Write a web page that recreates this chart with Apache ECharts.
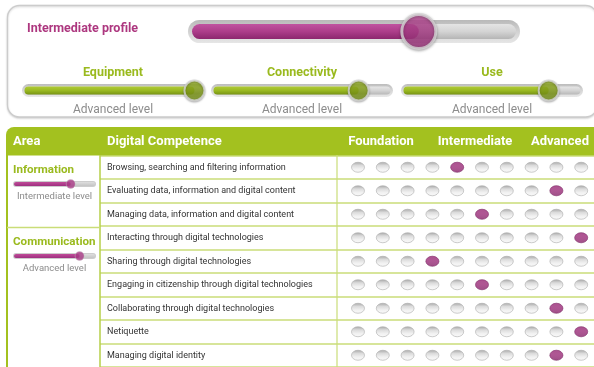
<!DOCTYPE html>
<html><head><meta charset="utf-8">
<script src="https://cdn.jsdelivr.net/npm/echarts@6/dist/echarts.min.js"></script>
<style>html,body{margin:0;padding:0;background:#fff}#c{width:594px;height:367px}</style>
</head><body><div id="c"></div>
<script>
// ---------- data ----------
const profileLabel = 'Intermediate profile';
const profileValue = 70;
const dimensionNames = ['Equipment', 'Connectivity', 'Use'];
const dimensionValues = [96, 82, 82];
const dimensionLevels = ['Advanced level', 'Advanced level', 'Advanced level'];
const headerLabels = ['Area', 'Digital Competence'];
const levelGroupLabels = ['Foundation', 'Intermediate', 'Advanced'];
const areaNames = ['Information', 'Communication'];
const areaValues = [70, 81];
const areaLevels = ['Intermediate level', 'Advanced level'];
const areaRowCounts = [3, 6];
const competences = [
  'Browsing, searching and filtering information',
  'Evaluating data, information and digital content',
  'Managing data, information and digital content',
  'Interacting through digital technologies',
  'Sharing through digital technologies',
  'Engaging in citizenship through digital technologies',
  'Collaborating through digital technologies',
  'Netiquette',
  'Managing digital identity'
];
const levelSteps = ['1', '2', '3', '4', '5', '6', '7', '8', '9', '10'];
const competenceLevels = [5, 9, 6, 10, 4, 6, 9, 10, 9];

// ---------- styles / layout ----------
const FONT = 'Roboto, "Noto Sans", sans-serif';
const MAG = '#a93a86';
const MAG_TEXT = '#ad377f';
const GREEN = '#a3c11f';
const GREEN_TEXT = '#9aba1e';
const LINE_LIGHT = '#cadd78';
const GRAY_TEXT = '#8c8c8c';
const lg = (stops) => new echarts.graphic.LinearGradient(0, 0, 0, 1, stops.map((c, i) => ({offset: i / (stops.length - 1), color: c})));

const TABLE_TOP = 155.5, ROW_H = 24;

const grids = [], xAxes = [], yAxes = [], series = [];

function addSlider(o) {
  const gi = grids.length;
  grids.push({left: o.left, top: o.top, width: o.width, height: o.height});
  const pad = (o.height - o.innerH) / 2;
  const u = 100 / (o.width - 2 * pad);
  xAxes.push({gridIndex: gi, type: 'value', min: -pad * u, max: 100 + pad * u, show: false});
  const xi = xAxes.length - 1;
  const y0 = yAxes.length;
  yAxes.push({gridIndex: gi, type: 'category', data: ['t'], show: false});
  yAxes.push({gridIndex: gi, type: 'category', data: ['t'], show: false});
  series.push({type: 'bar', xAxisIndex: xi, yAxisIndex: y0, data: [0], barWidth: o.height, silent: true,
    showBackground: true, backgroundStyle: {color: o.trackColor, borderRadius: o.height / 2}});
  series.push({type: 'bar', xAxisIndex: xi, yAxisIndex: y0 + 1, data: [100], barWidth: o.innerH, barGap: '-100%', silent: true,
    itemStyle: {color: o.innerColor, borderRadius: o.innerH / 2}});
  series.push({type: 'bar', xAxisIndex: xi, yAxisIndex: y0 + 1, data: [o.value], barWidth: o.innerH, barGap: '-100%', silent: true,
    itemStyle: {color: o.fillColor, borderRadius: o.innerH / 2}});
  series.push({type: 'scatter', xAxisIndex: xi, yAxisIndex: y0 + 1, data: [[o.value, 0]], symbolSize: o.knob, silent: true,
    itemStyle: o.knobStyle, z: 5});
}

// big profile slider
addSlider({left: 188, top: 20, width: 332, height: 23, innerH: 15, value: profileValue,
  trackColor: lg(['#b9b9b9', '#d2d2d2', '#e6e6e6']),
  innerColor: lg(['#e4e4e4', '#d4d4d4', '#b5b5b5']),
  fillColor: lg(['#c053a0', '#ad3d8a', '#8c276e']),
  knob: 34,
  knobStyle: {color: lg(['#bd4f99', '#ac3e89', '#8f2970']), borderColor: '#d6d6d6', borderWidth: 3,
    shadowBlur: 3, shadowColor: 'rgba(0,0,0,0.35)', shadowOffsetY: 1}});

// three dimension sliders
const dimLefts = [22, 211, 401];
dimensionValues.forEach((v, i) => {
  addSlider({left: dimLefts[i], top: 84, width: 182, height: 13, innerH: 8, value: v,
    trackColor: lg(['#bdbdbd', '#d6d6d6', '#e8e8e8']),
    innerColor: lg(['#e6e6e6', '#d4d4d4', '#b8b8b8']),
    fillColor: lg(['#b0cb35', '#9ab922', '#789414']),
    knob: 20,
    knobStyle: {color: lg(['#9ab526', '#86a11a', '#6b8512']), borderColor: '#d6d6d6', borderWidth: 2,
      shadowBlur: 2, shadowColor: 'rgba(0,0,0,0.3)', shadowOffsetY: 1}});
});

// area mini sliders
let rowStart = 0;
const areaTops = [];
areaRowCounts.forEach((n, i) => {
  const top = TABLE_TOP + rowStart * ROW_H;
  areaTops.push(top);
  addSlider({left: 13, top: top + 25.5, width: 83, height: 6, innerH: 4, value: areaValues[i],
    trackColor: '#cdcdcd',
    innerColor: lg(['#dedede', '#c4c4c4']),
    fillColor: lg(['#c04c98', '#9e3080']),
    knob: 9,
    knobStyle: {color: MAG, borderColor: '#c9c9c9', borderWidth: 0.5}});
  rowStart += n;
});

// table label grid (row separators + competence names)
const tg = grids.length;
grids.push({left: 100, right: -10, top: TABLE_TOP, height: ROW_H * competences.length});
xAxes.push({gridIndex: tg, type: 'value', min: 0, max: 1, show: false});
yAxes.push({gridIndex: tg, type: 'category', data: competences, inverse: true,
  axisLine: {show: false}, axisTick: {show: false},
  splitLine: {show: true, lineStyle: {color: LINE_LIGHT, width: 1.5}},
  axisLabel: {inside: true, margin: 7, color: '#333', fontFamily: FONT, fontSize: 9}});

// dot matrix grid
const dg = grids.length;
grids.push({left: 345.6, width: 248, top: TABLE_TOP, height: ROW_H * competences.length});
xAxes.push({gridIndex: dg, type: 'category', data: levelSteps, show: false});
yAxes.push({gridIndex: dg, type: 'category', data: competences, inverse: true, show: false});
const xiD = xAxes.length - 1, yiD = yAxes.length - 1;
const allCells = [];
competences.forEach((c) => levelSteps.forEach((s) => allCells.push([s, c])));
series.push({type: 'scatter', xAxisIndex: xiD, yAxisIndex: yiD, data: allCells, symbolSize: [13, 10], silent: true,
  itemStyle: {color: lg(['#8f8f8f', '#d2d2d2', '#eeeeee', '#f8f8f8']), borderColor: '#b0b0b0', borderWidth: 0.8}});
series.push({type: 'scatter', xAxisIndex: xiD, yAxisIndex: yiD,
  data: competenceLevels.map((lv, r) => [levelSteps[lv - 1], competences[r]]),
  symbolSize: [13, 10], silent: true, z: 4,
  itemStyle: {color: lg(['#ab3d88', '#a0327e', '#87256a']), borderColor: '#8f2a72', borderWidth: 0.6}});

// ---------- graphic (frame, texts) ----------
const txt = (x, y, text, font, fill, align) => ({type: 'text', silent: true, z: 10,
  style: {x, y, text, font, fill, align: align || 'left', verticalAlign: 'middle', textAlign: align || 'left', textVerticalAlign: 'middle'}});
const line = (x1, y1, x2, y2, stroke, w) => ({type: 'line', silent: true, z: 3, shape: {x1, y1, x2, y2}, style: {stroke, lineWidth: w}});

const graphic = [];
graphic.push({type: 'rect', silent: true, z: -1, shape: {x: 7.5, y: 5.5, width: 590, height: 111.5, r: 12},
  style: {fill: '#fff', stroke: '#cccccc', lineWidth: 1.3, shadowBlur: 2, shadowColor: 'rgba(0,0,0,0.15)', shadowOffsetY: 1}});
graphic.push(txt(27, 28.5, profileLabel, 'bold 12.5px ' + FONT, MAG_TEXT));
dimensionNames.forEach((n, i) => {
  const cx = dimLefts[i] + 91;
  graphic.push(txt(cx, 72.5, n, 'bold 12.5px ' + FONT, GREEN_TEXT, 'center'));
  graphic.push(txt(cx, 109.5, dimensionLevels[i], '12px ' + FONT, GRAY_TEXT, 'center'));
});
// header
graphic.push({type: 'rect', silent: true, z: 2, shape: {x: 6, y: 127, width: 600, height: 28.5, r: [8, 0, 0, 0]}, style: {fill: GREEN}});
graphic.push(txt(13, 141.5, headerLabels[0], 'bold 13px ' + FONT, '#fff'));
graphic.push(txt(107, 141.5, headerLabels[1], 'bold 13px ' + FONT, '#fff'));
const groupCenters = [381, 475, 560];
levelGroupLabels.forEach((l, i) => graphic.push(txt(groupCenters[i], 141.5, l, 'bold 13px ' + FONT, '#fff', 'center')));
// table lines
graphic.push(line(7, 155, 7, 380, GREEN, 2));
graphic.push(line(100, 155, 100, 380, '#b6cf48', 1.5));
graphic.push(line(337, 155, 337, 380, LINE_LIGHT, 1.2));
areaTops.forEach((t, i) => {
  if (i > 0) graphic.push(line(7, t, 100, t, LINE_LIGHT, 1.5));
  graphic.push(txt(13, t + 15, areaNames[i], 'bold 11.6px ' + FONT, GREEN_TEXT));
  graphic.push(txt(54.5, t + 41, areaLevels[i], '9.5px ' + FONT, GRAY_TEXT, 'center'));
});

const chart = echarts.init(document.getElementById('c'));
chart.setOption({
  animation: false,
  backgroundColor: '#fff',
  grid: grids, xAxis: xAxes, yAxis: yAxes, series, graphic
});
</script></body></html>
